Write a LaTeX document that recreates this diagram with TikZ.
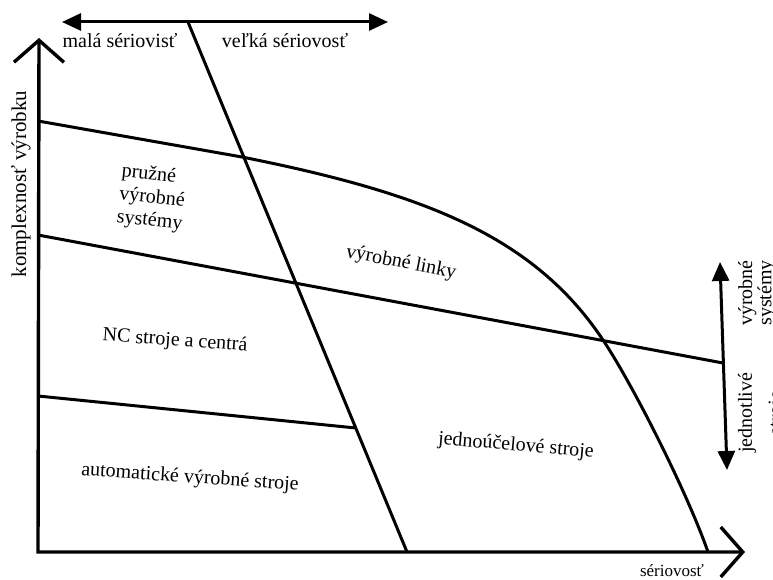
\documentclass[tikz,border=0pt]{standalone}
\usepackage{fontspec}
\setmainfont{Liberation Serif}
\usetikzlibrary{arrows.meta}

\begin{document}
\begin{tikzpicture}[
  x=1pt, y=-1pt,
  font=\fontsize{20}{23}\selectfont,
  ln/.style={line width=3pt},
  axis/.style={line width=3.4pt, line join=miter, {Straight Barb[length=22pt,width=50pt]}-{Straight Barb[length=22pt,width=50pt]}},
  both/.style={line width=3pt, {Triangle[length=19pt,width=17pt]}-{Triangle[length=19pt,width=17pt]}},
  lbl/.style={inner sep=0pt, align=left}
]
\useasboundingbox (0,0) rectangle (773,580);

\coordinate (O) at (38,552);
\coordinate (ytop) at (39,38);
\coordinate (xend) at (745,552);
\coordinate (tl) at (62,22);
\coordinate (tr) at (388,22);
\coordinate (dtop) at (188,22);
\coordinate (dbot) at (407,552);
\coordinate (m0) at (38,235);
\coordinate (m1) at (723,363);
\coordinate (l0) at (38,396);
\coordinate (l1) at (356,428);
\coordinate (r0) at (720,262);
\coordinate (r1) at (727,470);
\coordinate (c0) at (38,121);
\coordinate (c1) at (242,157);
\coordinate (c2) at (603,340);
\coordinate (c3) at (708,552);

\draw[axis] (ytop) -- (O) -- (xend);
\draw[both] (tl) -- (tr);
\draw[both] (r0) -- (r1);
\draw[ln] (dtop) -- (dbot);
\draw[ln] (m0) -- (m1);
\draw[ln] (l0) -- (l1);
\draw[ln] (c0) -- (c1) .. controls (422,193) and (533,235) .. (c2)
  .. controls (633,385) and (687,492) .. (c3);

\node[lbl] (mala) at (120,41) {malá sériovisť};
\node[lbl] (velka) at (285,41) {veľká sériovosť};
\node[lbl, rotate=90, font=\fontsize{21}{24}\selectfont] (kompl) at (21,184) {komplexnosť výrobku};
\node[lbl, font=\fontsize{17}{20}\selectfont] (ser) at (672,571) {sériovosť};
\node[lbl, rotate=-6] (pruzne) at (152,198) {pružné\\výrobné\\systémy};
\node[lbl, rotate=-11] (linky) at (401,263) {výrobné linky};
\node[lbl, rotate=-4] (nc) at (175,341) {NC stroje a centrá};
\node[lbl, rotate=-4] (auto) at (190,478) {automatické výrobné stroje};
\node[lbl, rotate=-5] (jedno) at (516,446) {jednoúčelové stroje};
\node[lbl, rotate=90, align=center, font=\fontsize{20}{18}\selectfont] (sys) at (757,293) {výrobné\\systémy};
\node[lbl, rotate=90, align=center, font=\fontsize{20}{30}\selectfont] (jedn) at (762,413) {jednotlivé\\stroje};
\end{tikzpicture}
\end{document}
